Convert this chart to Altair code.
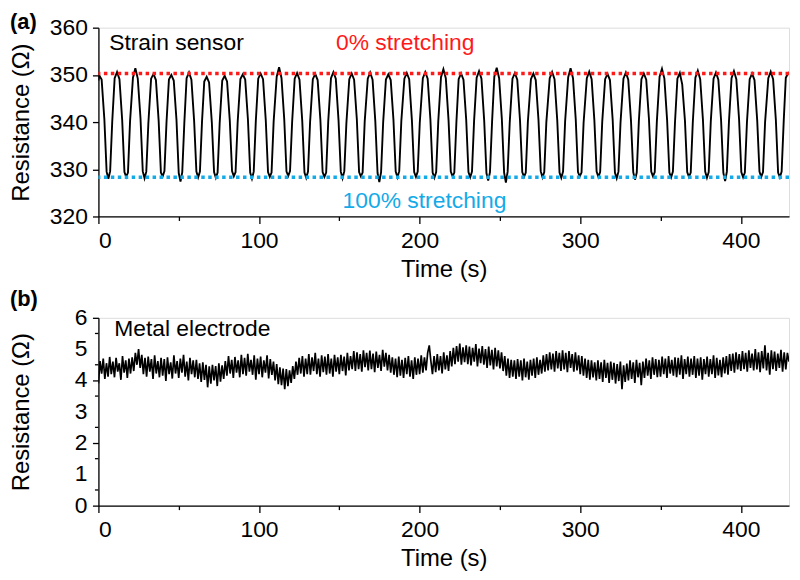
import altair as alt
import pandas as pd

FONT = "Liberation Sans"

# ---------------- panel (a): strain sensor ----------------
t_a = [0, 0.5, 2.0, 3.7, 5.1, 6.2, 7.3, 8.6,
       10.1, 11.6, 13.1, 14.8, 16.2, 17.3, 18.4, 19.7,
       21.5, 23.0, 24.5, 26.2, 27.6, 28.7, 29.8, 31.1,
       32.8, 34.3, 35.8, 37.5, 38.9, 40.0, 41.1, 42.4,
       43.9, 45.4, 46.9, 48.6, 50.0, 51.1, 52.2, 53.5,
       54.9, 56.4, 57.9, 59.6, 61.0, 62.1, 63.2, 64.5,
       65.9, 67.4, 68.9, 70.6, 72.0, 73.1, 74.2, 75.5,
       77.1, 78.6, 80.1, 81.8, 83.2, 84.3, 85.4, 86.7,
       88.4, 89.9, 91.4, 93.1, 94.5, 95.6, 96.7, 98.0,
       99.5, 101.0, 102.5, 104.2, 105.6, 106.7, 107.8, 109.1,
       111.0, 112.5, 114.0, 115.7, 117.1, 118.2, 119.3, 120.6,
       122.2, 123.7, 125.2, 126.9, 128.3, 129.4, 130.5, 131.8,
       133.5, 135.0, 136.5, 138.2, 139.6, 140.7, 141.8, 143.1,
       144.8, 146.3, 147.8, 149.5, 150.9, 152.0, 153.1, 154.4,
       156.2, 157.7, 159.2, 160.9, 162.3, 163.4, 164.5, 165.8,
       167.7, 169.2, 170.7, 172.4, 173.8, 174.9, 176.0, 177.3,
       179.0, 180.5, 182.0, 183.7, 185.1, 186.2, 187.3, 188.6,
       190.5, 192.0, 193.5, 195.2, 196.6, 197.7, 198.8, 200.1,
       202.0, 203.5, 205.0, 206.7, 208.1, 209.2, 210.3, 211.6,
       213.3, 214.8, 216.3, 218.0, 219.4, 220.5, 221.6, 222.9,
       224.3, 225.8, 227.3, 229.0, 230.4, 231.5, 232.6, 233.9,
       235.5, 237.0, 238.5, 240.2, 241.6, 242.7, 243.8, 245.1,
       246.5, 248.0, 249.5, 251.2, 252.6, 253.7, 254.8, 256.1,
       257.8, 259.3, 260.8, 262.5, 263.9, 265.0, 266.1, 267.4,
       269.3, 270.8, 272.3, 274.0, 275.4, 276.5, 277.6, 278.9,
       281.0, 282.5, 284.0, 285.7, 287.1, 288.2, 289.3, 290.6,
       292.5, 294.0, 295.5, 297.2, 298.6, 299.7, 300.8, 302.1,
       304.1, 305.6, 307.1, 308.8, 310.2, 311.3, 312.4, 313.7,
       315.5, 317.0, 318.5, 320.2, 321.6, 322.7, 323.8, 325.1,
       326.9, 328.4, 329.9, 331.6, 333.0, 334.1, 335.2, 336.5,
       338.1, 339.6, 341.1, 342.8, 344.2, 345.3, 346.4, 347.7,
       349.4, 350.9, 352.4, 354.1, 355.5, 356.6, 357.7, 359.0,
       360.5, 362.0, 363.5, 365.2, 366.6, 367.7, 368.8, 370.1,
       371.7, 373.2, 374.7, 376.4, 377.8, 378.9, 380.0, 381.3,
       383.0, 384.5, 386.0, 387.7, 389.1, 390.2, 391.3, 392.6,
       394.2, 395.7, 397.2, 398.9, 400.3, 401.4, 402.5, 403.8,
       405.5, 407.0, 408.5, 410.2, 411.6, 412.7, 413.8, 415.1,
       417.1, 418.6, 420.1, 421.8, 423.2, 424.3, 425.4, 426.7,
       428.0, 429.5, 430.0]

r_a = [348.8, 349.9, 349.0, 340.6, 329.5, 328.0, 329.6, 340.1,
       349.3, 350.6, 349.1, 340.4, 329.4, 328.4, 329.3, 340.2,
       349.4, 351.4, 349.2, 340.8, 329.6, 328.1, 329.5, 339.8,
       349.2, 350.2, 348.9, 340.3, 329.3, 328.5, 329.6, 340.0,
       349.0, 350.0, 348.8, 340.5, 329.2, 327.4, 329.4, 339.9,
       349.3, 350.5, 349.0, 340.2, 329.5, 328.3, 329.5, 340.1,
       348.6, 349.6, 348.4, 340.0, 329.4, 328.2, 329.3, 339.8,
       348.8, 349.8, 348.6, 340.3, 329.6, 328.5, 329.4, 340.0,
       349.1, 350.1, 349.0, 340.5, 329.3, 328.0, 329.5, 340.2,
       349.2, 350.3, 349.1, 340.4, 329.4, 328.4, 329.3, 340.1,
       349.6, 351.6, 349.3, 340.6, 329.5, 328.6, 329.6, 339.9,
       349.2, 350.4, 349.0, 340.3, 329.3, 328.2, 329.5, 340.0,
       349.1, 350.2, 348.9, 340.5, 329.4, 328.4, 329.3, 340.2,
       349.3, 350.6, 349.2, 340.4, 329.5, 328.1, 329.6, 339.8,
       349.1, 350.3, 349.0, 340.6, 329.4, 328.5, 329.3, 340.1,
       349.2, 350.5, 349.0, 340.2, 329.2, 327.3, 329.4, 340.0,
       349.0, 350.1, 348.9, 340.5, 329.5, 328.3, 329.6, 340.2,
       349.2, 350.4, 349.1, 340.3, 329.4, 328.4, 329.5, 339.9,
       349.3, 350.6, 349.2, 340.6, 329.3, 328.2, 329.4, 340.1,
       349.5, 351.2, 349.3, 340.4, 329.5, 328.5, 329.3, 340.0,
       349.1, 350.3, 349.0, 340.5, 329.4, 328.3, 329.5, 340.2,
       349.4, 350.8, 349.2, 340.3, 329.2, 327.6, 329.4, 340.0,
       349.6, 351.5, 349.3, 340.6, 329.3, 327.2, 329.5, 339.9,
       349.2, 350.4, 349.0, 340.4, 329.4, 328.4, 329.3, 340.1,
       349.1, 350.3, 348.9, 340.5, 329.6, 328.3, 329.4, 340.0,
       349.3, 350.6, 349.1, 340.3, 329.3, 328.2, 329.5, 340.2,
       349.5, 351.4, 349.3, 340.6, 329.4, 328.5, 329.3, 339.9,
       349.3, 350.7, 349.1, 340.4, 329.5, 328.4, 329.4, 340.1,
       349.1, 350.2, 348.9, 340.5, 329.3, 328.1, 329.5, 340.0,
       349.2, 350.5, 349.0, 340.3, 329.4, 327.8, 329.3, 340.2,
       349.1, 350.3, 349.0, 340.6, 329.5, 328.5, 329.4, 340.1,
       349.6, 351.3, 349.2, 340.4, 329.3, 328.3, 329.5, 339.9,
       349.2, 350.4, 348.0, 340.3, 329.4, 328.4, 329.3, 340.0,
       349.4, 350.9, 349.1, 340.5, 329.5, 328.2, 329.4, 340.2,
       349.2, 350.5, 349.0, 340.4, 329.3, 327.5, 329.5, 340.1,
       349.3, 350.8, 349.1, 340.6, 329.4, 328.3, 329.3, 339.9,
       349.1, 350.3, 348.9, 340.3, 329.5, 328.4, 329.4, 340.0,
       349.3, 350.7, 349.1, 340.5, 329.3, 328.3, 329.5, 340.2,
       349.4, 350.4, 350.6]

level_0pct = 350.3
level_100pct = 328.3

# ---------------- panel (b): metal electrode (1 s samples) ----------------
r_b = [
    3.90, 4.62, 4.22, 4.70, 4.05, 4.55, 4.12, 4.75, 4.20, 4.60,
    4.10, 4.72, 4.28, 4.55, 4.02, 4.78, 4.25, 4.64, 4.08, 4.70,
    4.22, 4.74, 4.30, 4.88, 4.50, 5.00, 4.40, 4.82, 4.20, 4.72,
    4.12, 4.76, 4.28, 4.68, 4.05, 4.80, 4.22, 4.62, 4.10, 4.72,
    4.15, 4.68, 3.98, 4.74, 4.20, 4.58, 4.06, 4.80, 4.22, 4.62,
    4.08, 4.70, 4.25, 4.82, 4.12, 4.60, 4.00, 4.72, 4.20, 4.64,
    4.10, 4.66, 4.05, 4.55, 3.95, 4.58, 4.02, 4.50, 3.78, 4.45,
    3.90, 4.50, 4.00, 4.46, 3.82, 4.55, 3.96, 4.48, 4.05, 4.62,
    4.15, 4.78, 4.22, 4.66, 4.08, 4.75, 4.25, 4.64, 4.10, 4.82,
    4.20, 4.72, 4.15, 4.85, 4.28, 4.66, 4.18, 4.80, 4.02, 4.70,
    4.20, 4.76, 4.10, 4.64, 4.25, 4.80, 4.06, 4.68, 4.18, 4.60,
    4.00, 4.52, 3.88, 4.42, 3.85, 4.38, 3.72, 4.36, 3.82, 4.32,
    3.92, 4.46, 4.05, 4.60, 4.18, 4.72, 4.22, 4.78, 4.12, 4.70,
    4.20, 4.84, 4.18, 4.74, 4.30, 4.88, 4.20, 4.70, 4.12, 4.80,
    4.26, 4.76, 4.18, 4.84, 4.22, 4.70, 4.12, 4.82, 4.28, 4.74,
    4.20, 4.82, 4.30, 4.76, 4.16, 4.88, 4.32, 4.78, 4.36, 4.94,
    4.30, 4.90, 4.36, 4.84, 4.28, 4.96, 4.42, 4.88, 4.32, 4.95,
    4.36, 4.86, 4.26, 4.92, 4.40, 4.82, 4.30, 4.98, 4.44, 4.88,
    4.32, 4.82, 4.25, 4.74, 4.18, 4.70, 4.10, 4.76, 4.15, 4.66,
    4.08, 4.72, 4.20, 4.78, 4.12, 4.64, 4.05, 4.74, 4.18, 4.70,
    4.20, 4.80, 4.25, 4.74, 4.32, 4.88, 5.12, 4.62, 4.20, 4.78,
    4.26, 4.84, 4.32, 4.78, 4.22, 4.90, 4.35, 4.80, 4.30, 4.94,
    4.45, 5.04, 4.52, 5.10, 4.60, 5.18, 4.50, 5.06, 4.58, 5.12,
    4.52, 5.08, 4.48, 5.04, 4.60, 5.16, 4.45, 5.02, 4.55, 5.10,
    4.50, 5.00, 4.40, 5.08, 4.48, 4.98, 4.35, 5.04, 4.45, 4.96,
    4.38, 4.90, 4.30, 4.78, 4.15, 4.70, 4.08, 4.66, 4.12, 4.64,
    4.05, 4.68, 4.12, 4.64, 4.00, 4.70, 4.10, 4.60, 4.02, 4.66,
    4.15, 4.70, 4.08, 4.74, 4.18, 4.66, 4.22, 4.80, 4.28, 4.84,
    4.32, 4.90, 4.35, 4.86, 4.28, 4.94, 4.38, 4.88, 4.30, 4.96,
    4.35, 4.88, 4.26, 4.94, 4.40, 4.84, 4.28, 4.90, 4.32, 4.80,
    4.20, 4.78, 4.15, 4.70, 4.08, 4.66, 4.02, 4.64, 4.10, 4.58,
    4.00, 4.64, 4.05, 4.58, 3.95, 4.66, 4.08, 4.56, 3.92, 4.60,
    4.02, 4.56, 3.90, 4.52, 3.98, 4.60, 3.72, 4.48, 3.95, 4.54,
    4.00, 4.64, 4.05, 4.58, 3.92, 4.66, 4.10, 4.56, 3.85, 4.60,
    4.08, 4.70, 4.15, 4.64, 4.05, 4.74, 4.18, 4.68, 4.10, 4.66,
    4.12, 4.76, 4.20, 4.70, 4.08, 4.78, 4.22, 4.66, 4.15, 4.74,
    4.10, 4.72, 4.18, 4.80, 4.05, 4.68, 4.20, 4.76, 4.12, 4.70,
    4.18, 4.78, 4.08, 4.70, 4.15, 4.74, 4.02, 4.68, 4.20, 4.76,
    4.12, 4.68, 4.20, 4.80, 4.08, 4.72, 4.16, 4.66, 4.10, 4.74,
    4.22, 4.78, 4.18, 4.84, 4.30, 4.86, 4.25, 4.90, 4.35, 4.84,
    4.30, 4.94, 4.36, 4.88, 4.28, 4.96, 4.40, 4.86, 4.32, 5.00,
    4.35, 4.90, 4.26, 4.94, 4.38, 5.12, 4.32, 4.88, 4.18, 4.96,
    4.36, 4.92, 4.30, 4.86, 4.40, 4.98, 4.28, 4.90, 4.35, 4.88,
    4.60]
t_b = list(range(len(r_b)))

x_ticks = [0, 50, 100, 150, 200, 250, 300, 350, 400]
ya_ticks = [320, 325, 330, 335, 340, 345, 350, 355, 360]
yb_major = [0, 1, 2, 3, 4, 5, 6]
yb_labels = ["0", "1", "2", "3", "4", "5", "6"]
yb_minor = [0.5, 1.5, 2.5, 3.5, 4.5, 5.5]

df_a = pd.DataFrame({"t": t_a, "r": r_a})
df_b = pd.DataFrame({"t": t_b, "r": r_b})

W = 695
HA = 190
HB = 189
RED = "#ff1a1a"
BLUE = "#14aae8"
YTITLE = "Resistance (Ω)"

axis_common = dict(
    domainColor="black", domainWidth=1.3, tickColor="black", tickWidth=1.3,
    labelColor="black", labelFont=FONT, labelFontSize=23, labelOverlap=False,
    titleFont=FONT, titleFontSize=24, titleFontWeight="normal", titleColor="black",
    grid=False,
)

x_axis = alt.Axis(
    values=x_ticks, title="Time (s)",
    labelExpr="datum.value % 100 === 0 ? datum.label : ''",
    tickSize={"condition": {"test": "datum.value % 100 === 0", "value": 7}, "value": 4},
    labelPadding=6, titlePadding=5, **axis_common,
)
x_scale = alt.Scale(domain=[0, 430], nice=False, zero=False)


def txt(label, x, y, color, size=23, bold=False, align="left"):
    return alt.Chart(pd.DataFrame({"x": [x], "y": [y], "s": [label]})).mark_text(
        align=align, baseline="middle", font=FONT, fontSize=size, color=color,
        fontWeight="bold" if bold else "normal",
    )


# panel (a)
ya_scale = alt.Scale(domain=[320, 360], nice=False, zero=False)
ya_axis = alt.Axis(
    values=ya_ticks, title=YTITLE,
    labelExpr="datum.value % 10 === 0 ? datum.label : ''",
    tickSize={"condition": {"test": "datum.value % 10 === 0", "value": 6}, "value": 3.5},
    labelPadding=5, titlePadding=16, **axis_common,
)
line_a = alt.Chart(df_a).mark_line(color="black", strokeWidth=1.9, clip=True).encode(
    x=alt.X("t:Q", scale=x_scale, axis=x_axis),
    y=alt.Y("r:Q", scale=ya_scale, axis=ya_axis),
)
red_rule = alt.Chart(pd.DataFrame({"y": [level_0pct]})).mark_rule(
    color=RED, strokeWidth=3.5, strokeDash=[3.5, 3.5]
).encode(y="y:Q")
blue_rule = alt.Chart(pd.DataFrame({"y": [level_100pct]})).mark_rule(
    color=BLUE, strokeWidth=3.5, strokeDash=[3.5, 3.5]
).encode(y="y:Q")

lab_a = txt("(a)", 0, 0, "black", size=22, bold=True).encode(
    x=alt.value(-89), y=alt.value(-6), text="s:N")
t_strain = txt("Strain sensor", 6.7, 356.7, "black").encode(x="x:Q", y="y:Q", text="s:N")
t_0 = txt("0% stretching", 191, 356.7, RED, align="center").encode(x="x:Q", y="y:Q", text="s:N")
t_100 = txt("100% stretching", 203, 323.3, BLUE, align="center").encode(x="x:Q", y="y:Q", text="s:N")

panel_a = alt.layer(line_a, red_rule, blue_rule, t_strain, t_0, t_100, lab_a).properties(
    width=W, height=HA)

# panel (b)
yb_scale = alt.Scale(domain=[0, 6], nice=False, zero=False)
yb_axis = alt.Axis(values=yb_major, title=YTITLE, tickSize=6, labels=False,
                   titlePadding=59, **axis_common)
line_b = alt.Chart(df_b).mark_line(color="black", strokeWidth=1.7, clip=True).encode(
    x=alt.X("t:Q", scale=x_scale, axis=x_axis),
    y=alt.Y("r:Q", scale=yb_scale, axis=yb_axis),
)
minor_b = alt.Chart(pd.DataFrame({"r": yb_minor})).mark_rule(
    color="black", strokeWidth=1.3
).encode(y=alt.Y("r:Q", scale=yb_scale, axis=yb_axis), x=alt.value(-3.5), x2=alt.value(0))
ylab_b = alt.Chart(pd.DataFrame({"r": yb_major, "s": yb_labels})).mark_text(
    align="right", baseline="middle", font=FONT, fontSize=23, color="black"
).encode(y=alt.Y("r:Q", scale=yb_scale, axis=yb_axis), x=alt.value(-11), text="s:N")
lab_b = txt("(b)", 0, 0, "black", size=22, bold=True).encode(
    x=alt.value(-89), y=alt.value(-19), text="s:N")
t_metal = txt("Metal electrode", 9.8, 5.65, "black").encode(x="x:Q", y="y:Q", text="s:N")

panel_b = alt.layer(line_b, minor_b, ylab_b, t_metal, lab_b).properties(width=W, height=HB)

chart = alt.vconcat(panel_a, panel_b, spacing=5).properties(padding=0).configure_view(
    stroke=None).configure(background="white")

chart.save("out.html", embed_options={"renderer": "svg", "actions": False})
